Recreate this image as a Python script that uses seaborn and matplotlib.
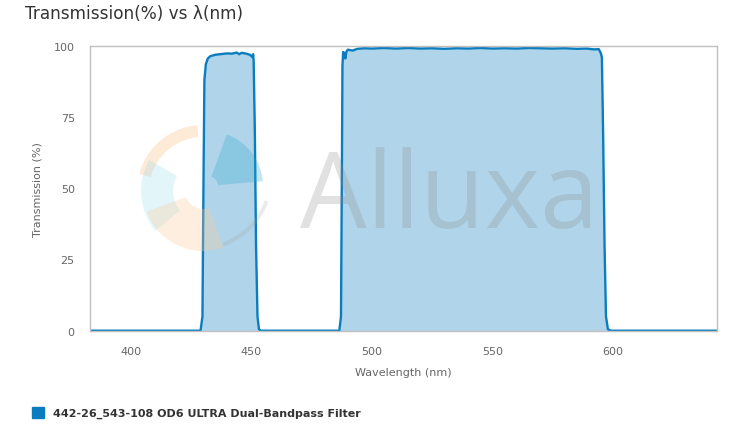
import numpy as np
import pandas as pd
import matplotlib
matplotlib.use("Agg")
import matplotlib.pyplot as plt
from matplotlib.patches import Wedge, Rectangle
import seaborn as sns

# spectrum (nm, %T)
wavelength = [383, 429.0, 429.8, 430.2, 430.6, 431.2, 432, 433, 435, 437, 440, 442, 444, 445,
              446, 448, 449.5, 450.5, 450.8, 451.0, 451.5, 452.0, 452.6, 453.2, 454,
              486.5, 487.2, 487.6, 487.8, 488.1, 488.5, 489, 489.4, 490, 492, 494, 497, 500,
              505, 510, 515, 520, 525, 530, 535, 540, 545, 550, 555, 560, 565, 570, 575,
              580, 585, 589, 592, 594, 594.8, 595.3, 595.8, 596.4, 597, 597.8, 599, 643]
transmission = [0, 0, 5, 50, 88, 93.5, 95.5, 96.3, 96.8, 97.0, 97.3, 97.2, 97.6, 97.0,
                97.5, 97.2, 96.8, 96.0, 97.0, 95, 70, 30, 5, 0.5, 0,
                0, 5, 60, 93, 97.8, 97.5, 95.5, 97.8, 98.6, 98.3, 98.9, 99.1, 99.0,
                99.2, 99.0, 99.2, 99.0, 99.1, 98.9, 99.1, 99.0, 99.2, 99.0, 99.1, 99.0, 99.2, 99.1, 99.0,
                99.1, 98.9, 99.0, 98.7, 98.8, 97.5, 96, 70, 30, 5, 0.5, 0, 0]
x_ticks = [400, 450, 500, 550, 600]
y_ticks = [0, 25, 50, 75, 100]
series_name = "442-26_543-108 OD6 ULTRA Dual-Bandpass Filter"

df = pd.DataFrame({"wl": wavelength, "T": transmission})

sns.set_style("white")
plt.rcParams['font.family'] = ['DejaVu Sans']

line_col = "#0b7dbe"
grey_txt = "#666666"
tick_col = "#ccd6eb"

fig = plt.figure(figsize=(7.35, 4.39), dpi=100)
ax = fig.add_axes([90/735, 1-331.7/439, 627/735, 285/439])

ax.fill_between(df.wl, df["T"], 0, color=line_col, alpha=0.32, lw=0)
sns.lineplot(data=df, x="wl", y="T", ax=ax, color=line_col, lw=1.7, sort=False)

ax.set_xlim(383.2, 643)
ax.set_ylim(0, 100)
ax.set_xticks(x_ticks)
ax.set_yticks(y_ticks)
ax.tick_params(axis="both", colors=tick_col, labelcolor=grey_txt, labelsize=8,
               length=7, width=1, direction="out")
ax.tick_params(axis="x", pad=4)
ax.tick_params(axis="y", pad=4)
for s in ax.spines.values():
    s.set_color("#c0c0c0")
    s.set_linewidth(1)
ax.set_xlabel("Wavelength (nm)", color=grey_txt, fontsize=8, labelpad=8)
ax.set_ylabel("Transmission (%)", color=grey_txt, fontsize=8, labelpad=8)

# title
fig.text(25/735, 1-14/439, "Transmission(%) vs λ(nm)", fontsize=12.2, color="#333333",
         va="center", ha="left")

# legend
fig.patches.append(Rectangle((32/735, 1-419/439), 12/735, 11/439, transform=fig.transFigure,
                             color=line_col, figure=fig))
fig.text(53/735, 1-413.5/439, series_name, fontsize=8, fontweight="bold",
         color="#333333", va="center", ha="left")

# watermark overlay (pixel coords, y pointing down)
ov = fig.add_axes([0, 0, 1, 1], zorder=5)
ov.set_xlim(0, 735)
ov.set_ylim(439, 0)
ov.axis("off")
ov.patch.set_alpha(0)
cx, cy = 203, 192
ov.add_patch(Wedge((cx, cy), 66, 195, 265, width=12, color="#f6a04d", alpha=0.22, lw=0))
ov.add_patch(Wedge((cx, cy), 62, 140, 210, width=32, color="#7fd6ec", alpha=0.22, lw=0))
ov.add_patch(Wedge((cx, cy), 60, 70, 160, width=42, color="#fbc896", alpha=0.3, lw=0))
ov.add_patch(Wedge((cx + 5, cy - 5), 55, 290, 355, width=45, color="#2aa7d0", alpha=0.28, lw=0))
ov.add_patch(Wedge((cx - 5, cy - 15), 75, 20, 70, width=4, color="#999999", alpha=0.2, lw=0))
ov.text(300, 228, "Alluxa", fontsize=76, family="Open Sans", fontweight="normal",
        color="#8a8a8a", alpha=0.25, ha="left", va="baseline")

fig.savefig("out.png", dpi=100)
